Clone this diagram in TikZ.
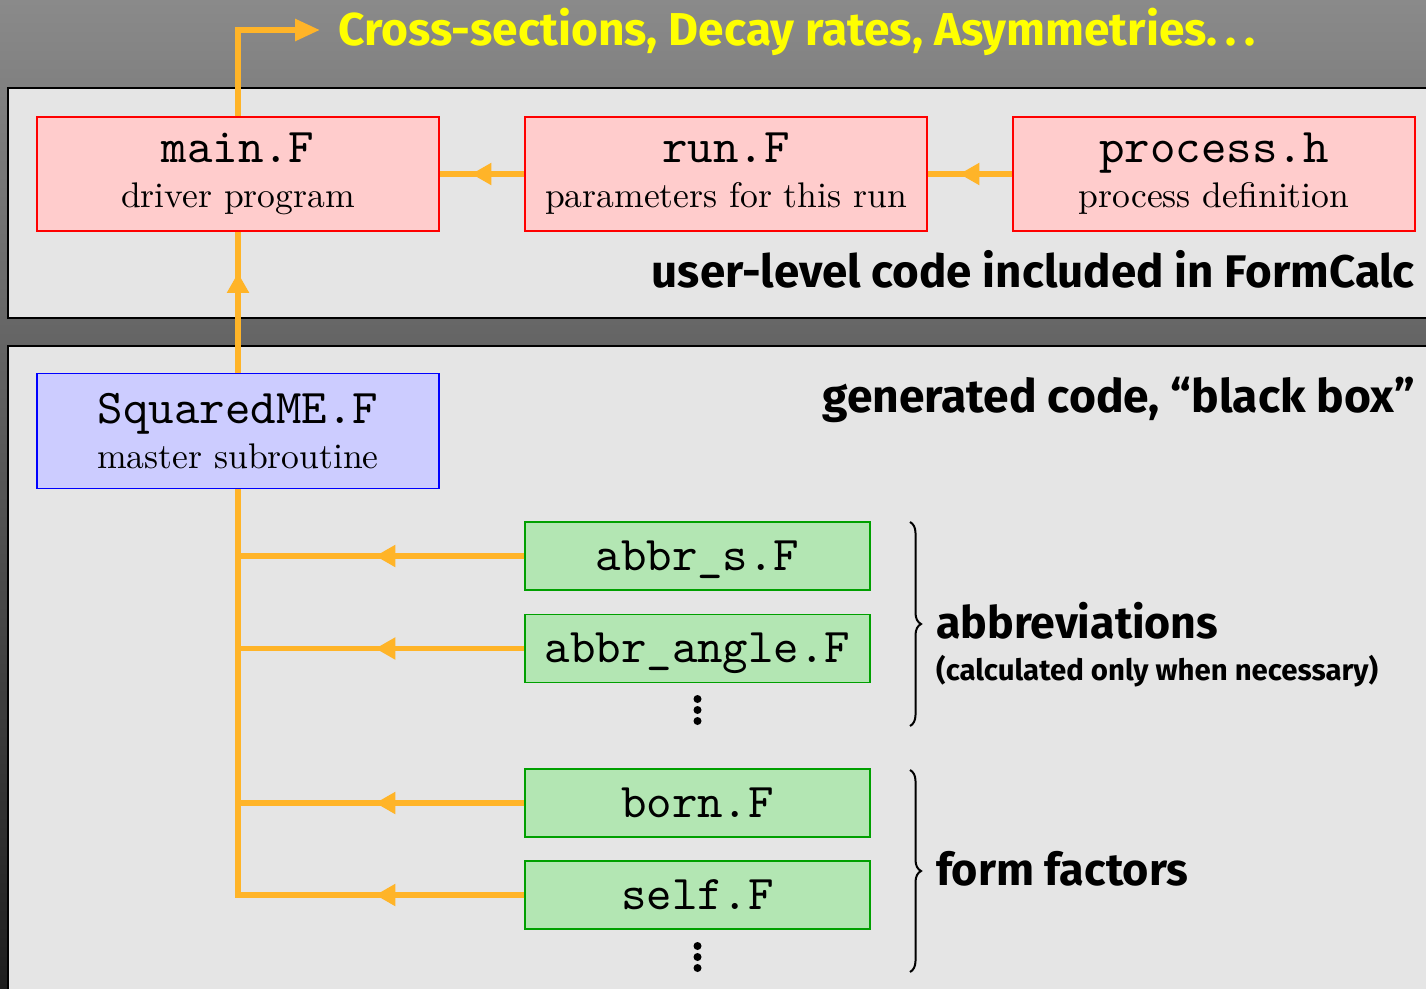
\documentclass[tikz,border=0pt]{standalone}
\usepackage{fontspec}
\newfontfamily\headfont{Fira Sans}
\newfontfamily\descfont{lmroman10-regular.otf}
\newfontfamily\codefont{lmmono10-regular.otf}
\usetikzlibrary{arrows.meta,decorations.markings,decorations.pathreplacing}

\definecolor{flow}{RGB}{255,180,40}
\definecolor{panel}{RGB}{229,229,229}
\definecolor{userfill}{RGB}{255,204,204}
\definecolor{userline}{RGB}{255,0,0}
\definecolor{mefill}{RGB}{204,204,255}
\definecolor{meline}{RGB}{0,0,255}
\definecolor{genfill}{RGB}{179,230,179}
\definecolor{genline}{RGB}{0,160,0}
\definecolor{bgtop}{RGB}{138,138,138}
\definecolor{bgbottom}{RGB}{30,30,30}
\definecolor{headyellow}{RGB}{255,255,0}

\newcommand\fname[1]{{\fontsize{48.5}{50}\selectfont\codefont #1}}

\begin{document}
\begin{tikzpicture}[x=1pt,y=-1pt,
  panelbox/.style={fill=panel,draw=black,line width=1.2pt},
  filebox/.style={line width=1.3pt,inner sep=0pt,align=center,
    font=\fontsize{35.6}{45}\selectfont\descfont},
  userbox/.style={filebox,draw=userline,fill=userfill,
    minimum width=402pt,minimum height=114pt},
  mebox/.style={filebox,draw=meline,fill=mefill,
    minimum width=402pt,minimum height=115pt},
  genbox/.style={filebox,draw=genline,fill=genfill,
    minimum width=345pt,minimum height=68pt,text height=34pt,text depth=6pt},
  flowline/.style={draw=flow,line width=5.7pt},
  midtip/.style={postaction={decorate,decoration={markings,
    mark=at position #1 with {\arrow{Triangle[length=20pt,width=21pt]}}}}},
  bracket/.style={draw=black,line width=2pt,decorate,
    decoration={brace,amplitude=11pt}},
  heading/.style={inner sep=0pt,font=\headfont\bfseries},
  dot/.style={fill=black,draw=none}
]
\useasboundingbox (0,0) rectangle (1426,988);
\shade[top color=bgtop,bottom color=bgbottom] (0,0) rectangle (1426,988);

% the two panels
\path[panelbox] (8,88) rectangle (1440,318);
\path[panelbox] (8,346) rectangle (1440,1000);

% user-level files
\node[userbox] (main) at (238,174) {\fname{main.F}\\driver program};
\node[userbox] (run) at (726,174) {\fname{run.F}\\parameters for this run};
\node[userbox] (proc) at (1214,174) {\fname{process.h}\\process definition};

% generated files
\node[mebox] (sq) at (238,431) {\fname{SquaredME.F}\\master subroutine};
\node[genbox] (abbrs) at (697.5,556) {\fname{abbr\_s.F}};
\node[genbox] (abbra) at (697.5,648.5) {\fname{abbr\_angle.F}};
\node[genbox] (born) at (697.5,803) {\fname{born.F}};
\node[genbox] (self) at (697.5,895) {\fname{self.F}};

% vertical ellipses below the lists
\fill[dot] (697.5,699) circle (4pt) (697.5,710) circle (4pt) (697.5,721) circle (4pt);
\fill[dot] (697.5,946) circle (4pt) (697.5,957) circle (4pt) (697.5,968) circle (4pt);

% output of the driver
\coordinate (out) at (320,30);
\draw[flowline,-{Triangle[length=25pt,width=21pt]}] (main.north) |- (out);
\node[heading,anchor=base west,text=headyellow] (result) at (338,45)
  {\resizebox{917pt}{!}{Cross-sections, Decay rates, Asymmetries.\,.\,.}};

% data flow between files
\draw[flowline,midtip=53pt] (run.west) -- (main.east);
\draw[flowline,midtip=53pt] (proc.west) -- (run.east);
\draw[flowline,midtip=100pt] (sq.north) -- (main.south);
\draw[flowline,midtip=149pt] (abbrs.west) -- (abbrs.west -| sq.south);
\draw[flowline,midtip=149pt] (abbra.west) -- (abbra.west -| sq.south);
\draw[flowline,midtip=149pt] (born.west) -- (born.west -| sq.south);
\draw[flowline,midtip=149pt,line join=miter] (self.west) -- (self.west -| sq.south) -- (sq.south);

% panel captions
\node[heading,anchor=base east] (userlbl) at (1415,287)
  {\resizebox{763pt}{!}{user-level code included in FormCalc}};
\node[heading,anchor=base east] (genlbl) at (1415,412)
  {\resizebox{592pt}{!}{generated code, “black box”}};

% groups of generated files
\coordinate (b1t) at (910,522);
\coordinate (b1b) at (910,726);
\coordinate (b2t) at (910,770);
\coordinate (b2b) at (910,972);
\draw[bracket] (b1t) -- (b1b);
\draw[bracket] (b2t) -- (b2b);
\node[heading,anchor=base west] (abbrlbl) at (936,638)
  {\resizebox{282pt}{!}{abbreviations}};
\node[heading,anchor=base west] (abbrnote) at (936,680)
  {\resizebox{442pt}{!}{(calculated only when necessary)}};
\node[heading,anchor=base west] (fflbl) at (936,885)
  {\resizebox{252pt}{!}{form factors}};
\end{tikzpicture}
\end{document}
